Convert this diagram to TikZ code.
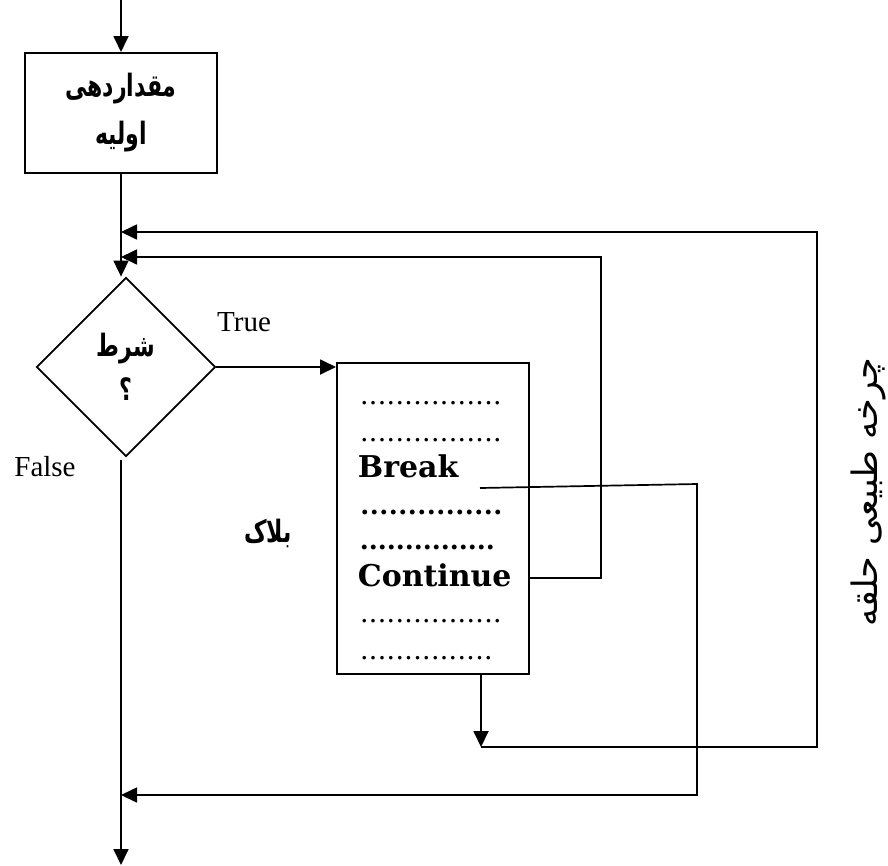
\documentclass[tikz,border=0pt]{standalone}
\usepackage{fontspec}
\setmainfont{Liberation Serif}
\newfontfamily\fa[Script=Arabic]{DejaVu Sans}
\newfontfamily\bs{DejaVu Serif}
\TeXXeTstate=1
\usetikzlibrary{arrows.meta,shapes.geometric}
% a row of periods spread over a given width
\newcommand\dotrow[2]{\makebox[#1][l]{\xleaders\hbox to #2{\hss.\hss}\hskip #1}}
% a right-to-left word, drawn a little taller than the font gives
\newcommand\rtl[1]{\scalebox{1}[1.4]{\beginR #1\endR}}

\begin{document}
\begin{tikzpicture}[x=1pt,y=-1pt,line width=1.8pt,
  tip/.style={-{Triangle[length=16pt,width=15pt]}},
  wire/.style={line width=1.7pt},
  faBold/.style={font=\fa\bfseries\fontsize{22}{44}\selectfont},
  latin/.style={font=\fontsize{29}{34}\selectfont},
  kw/.style={font=\bs\bfseries\fontsize{30}{36}\selectfont,inner sep=0pt,anchor=base west},
  dotsline/.style={font=\fontsize{30}{36}\selectfont,inner sep=0pt,anchor=base west}]
\useasboundingbox (0,0) rectangle (888,865);

% shapes
\node[draw,line width=2pt,minimum width=192pt,minimum height=120pt,align=center,faBold]
  (init) at (121,113) {\rtl{مقداردهی}\\[4pt]\rtl{اولیه}};
\node[draw,line width=1.8pt,diamond,minimum width=179pt,minimum height=179pt,inner sep=0pt,
  align=center,faBold] (cond) at (126,367) {\rtl{شرط}\\\rtl{؟}};
\node[draw,line width=2pt,minimum width=192pt,minimum height=311pt,inner sep=0pt]
  (block) at (433,518.5) {};

% block contents
\node[dotsline] (d1) at (359,404) {\dotrow{142pt}{8.75pt}};
\node[dotsline] (d2) at (359,441) {\dotrow{142pt}{8.75pt}};
\node[kw] (brk) at (357,477) {Break};
\node[dotsline,font=\bfseries\fontsize{30}{36}\selectfont] (d3) at (359,514) {\dotrow{143pt}{9pt}};
\node[dotsline,font=\bfseries\fontsize{30}{36}\selectfont] (d4) at (359,549) {\dotrow{135pt}{9pt}};
\node[kw] (cnt) at (357,586) {Continue};
\node[dotsline] (d5) at (359,622) {\dotrow{142pt}{8.75pt}};
\node[dotsline] (d6) at (359,659) {\dotrow{133pt}{8.75pt}};

% labels
\node[latin] (t) at (244,322) {True};
\node[latin] (f) at (45,467) {False};
\node[faBold] (blk) at (268,533) {\rtl{بلاک}};
\node[font=\fa\fontsize{35}{40}\selectfont,rotate=90] (cyc) at (868,492) {\beginR چرخه طبیعی حلقه\endR};

% junction points on the main line
\coordinate (in) at (121,0);
\coordinate (j1) at (121,232);
\coordinate (j2) at (121,257);
\coordinate (j3) at (121,795);
\coordinate (out) at (121,865);
\coordinate (fs) at (121,460);

% break route
\coordinate (b0) at (480,488);
\coordinate (b1) at (697,484);
\coordinate (b2) at (697,795);
% continue route
\coordinate (c0) at (601,578);
\coordinate (c1) at (601,257);
% natural cycle route
\coordinate (n0) at (481,674);
\coordinate (n1) at (481,747);
\coordinate (n2) at (817,747);
\coordinate (n3) at (817,232);

% main flow
\draw[tip] (in) -- (init.north);
\draw[tip] (init.south) -- (init.south |- cond.north);
\draw[tip] (cond.east) -- (block.west |- cond.east);
\draw[tip] (fs) -- (out);

% loop returns
\draw[wire,tip] (block.east |- c0) -- (c0) -- (c1) -- (j2);
\draw[wire,tip] (b0) -- (b1) -- (b2) -- (j3);
\draw[tip] (n0) -- (n1);
\draw[wire,tip] (n1) -- (n2) -- (n3) -- (j1);
\end{tikzpicture}
\end{document}
